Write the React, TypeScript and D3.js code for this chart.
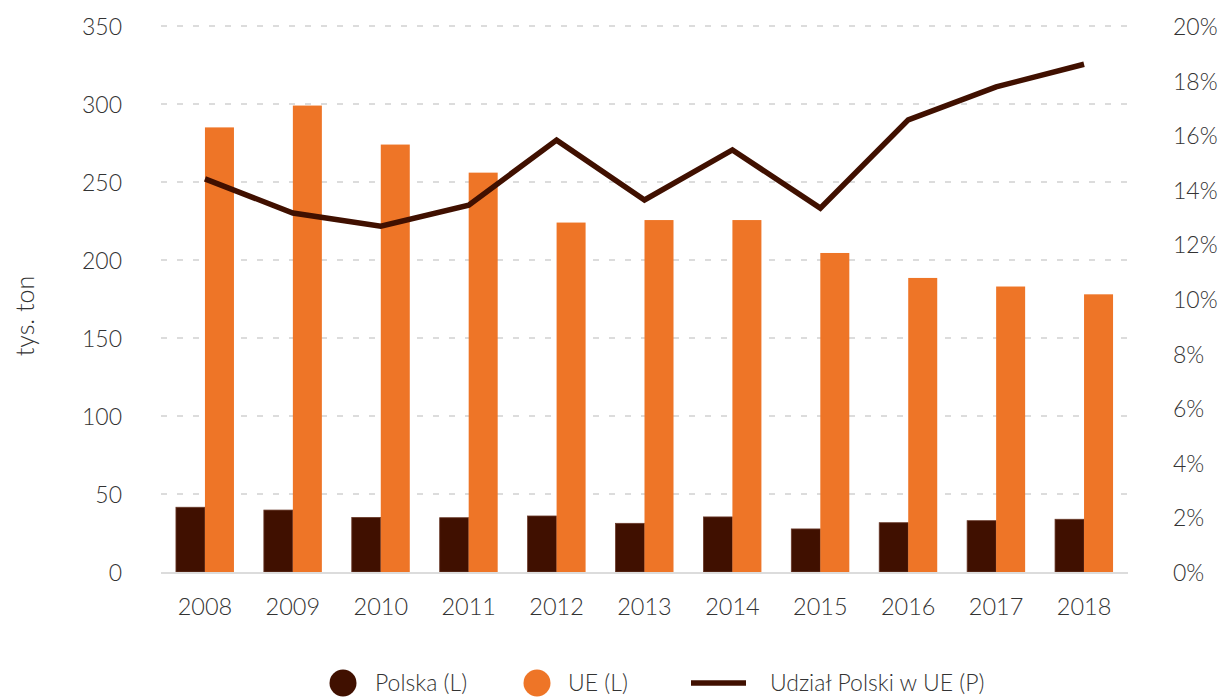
import React, { useEffect, useRef } from 'react';
import * as d3 from 'd3';

const years = ['2008', '2009', '2010', '2011', '2012', '2013', '2014', '2015', '2016', '2017', '2018'];
const polska = [41.5, 39.7, 35, 34.8, 35.9, 31.2, 35.3, 27.6, 31.6, 32.9, 33.8];
const ue = [285, 299, 274, 256, 224, 225.6, 225.6, 204.5, 188.5, 183, 178];
const udzial = [0.144, 0.1315, 0.1267, 0.1344, 0.1582, 0.1363, 0.1546, 0.1333, 0.1656, 0.1777, 0.186];
const leftTicks = [0, 50, 100, 150, 200, 250, 300, 350];
const rightTicks = [0, 0.02, 0.04, 0.06, 0.08, 0.1, 0.12, 0.14, 0.16, 0.18, 0.2];

const DARK = '#401000';
const ORANGE = '#EE7527';
const TEXT = '#333333';
const GRID = '#dcdcdc';
const FONT = 'Lato, "Open Sans", sans-serif';

const W = 1224;
const H = 697;

const App = () => {
  const svgRef = useRef(null);

  useEffect(() => {
    const svg = d3.select(svgRef.current);
    svg.selectAll('*').remove();
    svg.attr('width', W).attr('height', H);

    const left = 161;
    const right = 1128;
    const top = 26;
    const bottom = 572;

    const x = d3.scaleBand().domain(years).range([left, right]);
    const yL = d3.scaleLinear().domain([0, 350]).range([bottom, top]);
    const yR = d3.scaleLinear().domain([0, 0.2]).range([bottom, top]);
    const barW = 29;

    // grid lines
    svg.append('g')
      .selectAll('line')
      .data(leftTicks.filter(d => d > 0))
      .enter()
      .append('line')
      .attr('x1', left)
      .attr('x2', right)
      .attr('y1', d => yL(d))
      .attr('y2', d => yL(d))
      .attr('stroke', GRID)
      .attr('stroke-width', 2)
      .attr('stroke-dasharray', '6,10');

    // left axis labels
    svg.append('g')
      .selectAll('text')
      .data(leftTicks)
      .enter()
      .append('text')
      .attr('x', 122)
      .attr('y', d => yL(d))
      .attr('text-anchor', 'end')
      .attr('dominant-baseline', 'central')
      .attr('font-family', FONT)
      .attr('font-weight', 300)
      .attr('font-size', 23)
      .attr('fill', TEXT)
      .text(d => d);

    // right axis labels
    svg.append('g')
      .selectAll('text')
      .data(rightTicks)
      .enter()
      .append('text')
      .attr('x', 1173)
      .attr('y', d => yR(d))
      .attr('text-anchor', 'start')
      .attr('dominant-baseline', 'central')
      .attr('font-family', FONT)
      .attr('font-weight', 300)
      .attr('font-size', 23)
      .attr('fill', TEXT)
      .text(d => `${Math.round(d * 100)}%`);

    // y axis title
    svg.append('text')
      .attr('transform', `translate(24,316) rotate(-90)`)
      .attr('text-anchor', 'middle')
      .attr('dominant-baseline', 'central')
      .attr('font-family', FONT)
      .attr('font-weight', 300)
      .attr('font-size', 25)
      .attr('fill', TEXT)
      .text('tys. ton');

    // bars
    const groups = svg.append('g')
      .selectAll('g')
      .data(years)
      .enter()
      .append('g');

    groups.append('rect')
      .attr('x', d => x(d) + x.bandwidth() / 2 - barW)
      .attr('y', (d, i) => yL(polska[i]))
      .attr('width', barW)
      .attr('height', (d, i) => bottom - yL(polska[i]))
      .attr('fill', DARK)
      .attr('stroke', '#6a3a2a')
      .attr('stroke-width', 0.8);

    groups.append('rect')
      .attr('x', d => x(d) + x.bandwidth() / 2)
      .attr('y', (d, i) => yL(ue[i]))
      .attr('width', barW)
      .attr('height', (d, i) => bottom - yL(ue[i]))
      .attr('fill', ORANGE);

    // baseline
    svg.append('line')
      .attr('x1', left)
      .attr('x2', right)
      .attr('y1', bottom + 1)
      .attr('y2', bottom + 1)
      .attr('stroke', GRID)
      .attr('stroke-width', 2);

    // x labels
    svg.append('g')
      .selectAll('text')
      .data(years)
      .enter()
      .append('text')
      .attr('x', d => x(d) + x.bandwidth() / 2)
      .attr('y', 606)
      .attr('text-anchor', 'middle')
      .attr('dominant-baseline', 'central')
      .attr('font-family', FONT)
      .attr('font-weight', 300)
      .attr('font-size', 23.5)
      .attr('fill', TEXT)
      .text(d => d);

    // share line
    const line = d3.line()
      .x((d, i) => x(years[i]) + x.bandwidth() / 2)
      .y(d => yR(d));

    svg.append('path')
      .datum(udzial)
      .attr('d', line)
      .attr('fill', 'none')
      .attr('stroke', DARK)
      .attr('stroke-width', 5.5)
      .attr('stroke-linejoin', 'miter');

    // legend
    const ly = 682;
    const legend = svg.append('g').attr('font-family', FONT).attr('font-weight', 300).attr('font-size', 23).attr('fill', TEXT);
    legend.append('circle').attr('cx', 343).attr('cy', ly + 1).attr('r', 13.5).attr('fill', DARK);
    legend.append('text').attr('x', 375).attr('y', ly).attr('dominant-baseline', 'central').text('Polska (L)');
    legend.append('circle').attr('cx', 537).attr('cy', ly + 1).attr('r', 13.5).attr('fill', ORANGE);
    legend.append('text').attr('x', 568).attr('y', ly).attr('dominant-baseline', 'central').text('UE (L)');
    legend.append('line').attr('x1', 691).attr('x2', 746).attr('y1', ly + 1).attr('y2', ly + 1).attr('stroke', DARK).attr('stroke-width', 5.5);
    legend.append('text').attr('x', 770).attr('y', ly).attr('dominant-baseline', 'central').text('Udział Polski w UE (P)');
  }, []);

  return (
    <div style={{ position: 'absolute', top: 0, left: 0, width: W, height: H, background: '#fff' }}>
      <svg ref={svgRef}></svg>
    </div>
  );
};

export default App;
